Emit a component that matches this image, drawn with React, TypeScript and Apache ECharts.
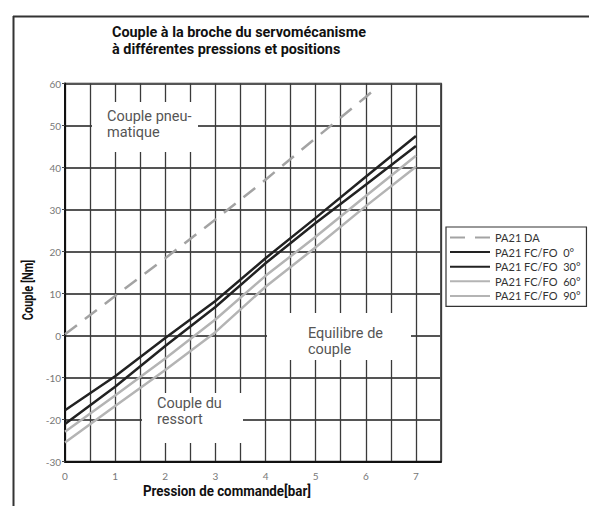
import React, { useEffect, useRef } from "react";
import * as echarts from "echarts";

const pressure = [0, 1, 2, 3, 4, 5, 6, 7];
const daPressure = [0, 1, 2, 3, 4, 5, 6, 6.24];
const daValues = [0.3, 9.4, 18.4, 27.6, 37.1, 47, 56.8, 59.3];
const fc0 = [-17.8, -9.7, -0.6, 8.2, 18.4, 28, 37.8, 47.5];
const fc30 = [-21.1, -12.2, -2.5, 6.8, 17.2, 26.8, 35.9, 45.1];
const fc60 = [-22.9, -14.3, -5.5, 3.8, 14.2, 23.5, 33.2, 42.8];
const fc90 = [-25.5, -16.8, -8.2, 0.8, 11.6, 21, 30.8, 40.2];
const seriesNames = ["PA21 DA", "PA21 FC/FO  0°", "PA21 FC/FO  30°", "PA21 FC/FO  60°", "PA21 FC/FO  90°"];
const titleText = "Couple à la broche du servomécanisme\nà différentes pressions et positions";
const xName = "Pression de commande[bar]";
const yName = "Couple [Nm]";
const noteLines = [
  ["Couple pneu-", "matique"],
  ["Couple du", "ressort"],
  ["Equilibre de", "couple"],
];

const pair = (xs: number[], ys: number[]) => xs.map((x, i) => [x, ys[i]]);

export default function App() {
  const ref = useRef<HTMLDivElement>(null);
  useEffect(() => {
    if (!ref.current) return;
    const chart = echarts.init(ref.current, null, { renderer: "svg" });
    const black = "#222222";
    const gray = "#b4b4b4";
    const mk = (name: string, data: number[][], color: string, type: any) => ({
      name,
      type: "line",
      data,
      symbol: "none",
      z: 3,
      lineStyle: { color, width: 2.5, type },
      itemStyle: { color },
    });
    const lineText = (x: number, y: number, text: string) => ({
      type: "text",
      x,
      y,
      z: 11,
      style: {
        text,
        font: "14.5px Roboto",
        fill: "#555",
        textVerticalAlign: "middle",
      },
    });
    const note = (x: number, y: number, lines: string[]) => lines.map((t, i) => lineText(x, y + i * 16, t));
    chart.setOption({
      animation: false,
      backgroundColor: "#fff",
      title: {
        text: titleText,
        left: 112,
        top: 24,
        padding: 0,
        textStyle: { fontFamily: "Roboto", fontWeight: "bold", fontSize: 14.4, lineHeight: 17, color: "#111" },
      },
      grid: { left: 65, right: 148, top: 83.5, bottom: 44.5, show: true, borderColor: "#222", borderWidth: 1.5 },
      legend: {
        orient: "vertical",
        left: 446,
        top: 227,
        data: seriesNames,
        itemWidth: 40,
        itemHeight: 12,
        itemGap: 1.6,
        padding: [4, 6, 4, 3],
        borderColor: "#333",
        borderWidth: 1.2,
        backgroundColor: "#fff",
        itemStyle: { opacity: 0 },
        textStyle: { fontFamily: "Lato", fontSize: 11, color: "#333", lineHeight: 13 },
      },
      xAxis: {
        type: "value",
        min: 0,
        max: 7.5,
        interval: 0.5,
        axisLine: { show: true, onZero: false, lineStyle: { color: "#111", width: 2 } },
        axisTick: { show: false },
        axisLabel: {
          fontFamily: "Lato",
          fontSize: 10,
          color: "#777",
          margin: 9,
          formatter: (v: number) => (Number.isInteger(v) ? String(v) : ""),
        },
        splitLine: { show: true, lineStyle: { color: "#3a3a3a", width: 1.3 } },
      },
      yAxis: {
        type: "value",
        min: -30,
        max: 60,
        interval: 10,
        axisLine: { show: true, onZero: false, lineStyle: { color: "#111", width: 2 } },
        axisTick: { show: true, length: 3, lineStyle: { color: "#444", width: 1 } },
        axisLabel: { fontFamily: "Lato", fontSize: 10, color: "#777", margin: 4 },
        splitLine: { show: true, lineStyle: { color: "#555", width: 2 } },
      },
      series: [
        mk(seriesNames[0], pair(daPressure, daValues), "#a3a3a3", [15, 10]),
        mk(seriesNames[1], pair(pressure, fc0), black, "solid"),
        mk(seriesNames[2], pair(pressure, fc30), black, "solid"),
        mk(seriesNames[3], pair(pressure, fc60), gray, "solid"),
        mk(seriesNames[4], pair(pressure, fc90), gray, "solid"),
      ],
      graphic: [
        { type: "line", z: 20, shape: { x1: 13.5, y1: 16, x2: 13.5, y2: 506 }, style: { stroke: "#333", lineWidth: 2 } },
        { type: "line", z: 20, shape: { x1: 13, y1: 16.5, x2: 589, y2: 16.5 }, style: { stroke: "#333", lineWidth: 2 } },
        { type: "rect", z: 10, shape: { x: 92, y: 102, width: 106, height: 50 }, style: { fill: "#fff" } },
        ...note(107, 116.5, noteLines[0]),
        { type: "rect", z: 10, shape: { x: 142, y: 393, width: 101, height: 50 }, style: { fill: "#fff" } },
        ...note(157, 403.5, noteLines[1]),
        { type: "rect", z: 10, shape: { x: 267, y: 313, width: 144, height: 47 }, style: { fill: "#fff" } },
        ...note(308, 333.5, noteLines[2]),
        {
          type: "text",
          x: 227,
          y: 491,
          z: 11,
          scaleX: 0.89,
          style: { text: xName, font: "bold 15px Roboto", fill: "#111", textAlign: "center", textVerticalAlign: "middle" },
        },
        {
          type: "text",
          x: 28,
          y: 290,
          z: 11,
          rotation: Math.PI / 2,
          scaleX: 0.73,
          style: { text: yName, font: "bold 15px Roboto", fill: "#111", textAlign: "center", textVerticalAlign: "middle" },
        },
      ],
    });
    return () => chart.dispose();
  }, []);
  return <div ref={ref} style={{ position: "absolute", left: 0, top: 0, width: 589, height: 506 }} />;
}
